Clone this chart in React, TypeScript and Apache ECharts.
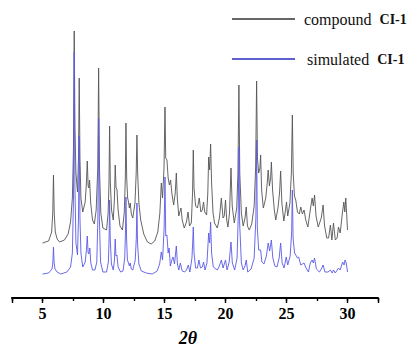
import React, { useEffect, useRef } from 'react';
import * as echarts from 'echarts';

const seriesNames = ['compound', 'simulated'];
const sampleLabel = 'CI-1';
const axisName = '2θ';

// [2θ, intensity (a.u.)] — experimental pattern, offset upward
const compound: [number, number][] = [
  [5.0, 55], [5.5, 57], [5.75, 66], [5.84, 85], [5.9, 123], [5.96, 85], [6.05, 66], [6.2, 59], [6.4, 56],
  [6.8, 58], [7.1, 64], [7.3, 76], [7.45, 100], [7.54, 150], [7.6, 267], [7.66, 170], [7.74, 125], [7.87, 106],
  [7.95, 140], [8.01, 220], [8.07, 140], [8.15, 100], [8.3, 86], [8.5, 96], [8.6, 115], [8.67, 137], [8.74, 112],
  [8.8, 110], [8.86, 118], [8.95, 95], [9.1, 78], [9.25, 74], [9.4, 88], [9.53, 130], [9.6, 230], [9.67, 130],
  [9.78, 85], [9.95, 70], [10.25, 68], [10.38, 85], [10.45, 115], [10.5, 172], [10.56, 115], [10.66, 88],
  [10.8, 78], [10.9, 100], [10.96, 133], [11.03, 110], [11.1, 109], [11.2, 88], [11.35, 72], [11.55, 68],
  [11.7, 85], [11.79, 120], [11.84, 175], [11.9, 120], [11.98, 100], [12.05, 96], [12.12, 90], [12.19, 95],
  [12.28, 84], [12.4, 80], [12.58, 95], [12.68, 125], [12.74, 163], [12.8, 125], [12.9, 95], [13.05, 78],
  [13.3, 64], [13.6, 56], [13.9, 54], [14.2, 57], [14.45, 66], [14.62, 85], [14.74, 115], [14.84, 100],
  [14.96, 130], [15.04, 191], [15.1, 140], [15.2, 138], [15.3, 120], [15.4, 113], [15.5, 118], [15.6, 105],
  [15.75, 93], [15.88, 105], [15.97, 125], [16.05, 100], [16.17, 82], [16.3, 88], [16.35, 90], [16.45, 78],
  [16.62, 70], [16.8, 76], [16.93, 86], [17.05, 72], [17.2, 75], [17.3, 105], [17.36, 148], [17.42, 110],
  [17.55, 92], [17.7, 90], [17.85, 100], [17.98, 86], [18.1, 88], [18.2, 96], [18.3, 86], [18.45, 83],
  [18.55, 105], [18.62, 141], [18.7, 128], [18.78, 154], [18.86, 115], [18.98, 85], [19.1, 75], [19.33, 70],
  [19.5, 80], [19.66, 100], [19.8, 80], [19.9, 82], [20.0, 98], [20.1, 78], [20.2, 71], [20.33, 85],
  [20.45, 130], [20.55, 92], [20.72, 75], [20.92, 90], [21.02, 125], [21.1, 213], [21.17, 125], [21.3, 85],
  [21.45, 72], [21.6, 80], [21.7, 91], [21.8, 72], [21.95, 68], [22.15, 74], [22.35, 92], [22.47, 130],
  [22.55, 217], [22.62, 140], [22.72, 125], [22.82, 130], [22.88, 143], [22.96, 108], [23.1, 90], [23.3, 100],
  [23.42, 115], [23.5, 128], [23.6, 112], [23.7, 120], [23.76, 136], [23.86, 108], [24.0, 88], [24.12, 78],
  [24.3, 90], [24.43, 105], [24.52, 127], [24.62, 95], [24.78, 77], [24.92, 88], [25.0, 96], [25.1, 82],
  [25.28, 95], [25.4, 125], [25.48, 183], [25.55, 125], [25.65, 102], [25.76, 98], [25.9, 86], [26.05, 84],
  [26.17, 91], [26.3, 84], [26.44, 88], [26.58, 78], [26.75, 71], [26.95, 88], [27.1, 100], [27.2, 92],
  [27.3, 103], [27.42, 82], [27.6, 71], [27.85, 80], [28.0, 93], [28.12, 72], [28.3, 60], [28.45, 60],
  [28.6, 73], [28.72, 58], [28.85, 75], [29.0, 58], [29.15, 60], [29.26, 71], [29.4, 65], [29.58, 85],
  [29.7, 96], [29.78, 86], [29.86, 100], [29.95, 80], [30.0, 68],
];

// [2θ, intensity (a.u.)] — simulated pattern
const simulated: [number, number][] = [
  [5.0, 24], [5.5, 25], [5.78, 29], [5.85, 36], [5.9, 51], [5.95, 36], [6.02, 29], [6.2, 26], [6.5, 24],
  [7.0, 26], [7.3, 31], [7.45, 45], [7.54, 100], [7.6, 246], [7.66, 110], [7.74, 55], [7.87, 43], [7.95, 80],
  [8.01, 162], [8.07, 80], [8.15, 45], [8.3, 31], [8.5, 36], [8.6, 48], [8.67, 62], [8.74, 45], [8.8, 44],
  [8.88, 50], [8.96, 35], [9.1, 28], [9.3, 28], [9.45, 36], [9.54, 80], [9.6, 180], [9.66, 80], [9.76, 36],
  [9.95, 26], [10.25, 26], [10.4, 36], [10.46, 60], [10.5, 98], [10.55, 60], [10.65, 34], [10.8, 28],
  [10.9, 38], [10.96, 59], [11.02, 42], [11.1, 43], [11.2, 31], [11.4, 26], [11.6, 27], [11.74, 40],
  [11.8, 65], [11.84, 101], [11.89, 60], [11.96, 38], [12.05, 35], [12.12, 32], [12.19, 35], [12.28, 29],
  [12.4, 28], [12.6, 38], [12.69, 60], [12.74, 95], [12.79, 55], [12.9, 34], [13.1, 27], [13.5, 25],
  [14.0, 24], [14.4, 27], [14.6, 34], [14.74, 46], [14.84, 38], [14.97, 70], [15.04, 121], [15.1, 62],
  [15.2, 63], [15.3, 45], [15.38, 50], [15.48, 32], [15.6, 38], [15.7, 41], [15.82, 34], [15.97, 52],
  [16.06, 34], [16.17, 28], [16.3, 35], [16.45, 27], [16.65, 26], [16.8, 28], [16.95, 33], [17.08, 26],
  [17.25, 40], [17.31, 55], [17.36, 71], [17.42, 45], [17.55, 30], [17.7, 30], [17.82, 38], [17.95, 30],
  [18.1, 31], [18.2, 36], [18.32, 28], [18.48, 35], [18.62, 65], [18.7, 55], [18.78, 76], [18.86, 45],
  [19.0, 31], [19.33, 28], [19.5, 32], [19.66, 38], [19.8, 30], [20.0, 38], [20.13, 28], [20.3, 36],
  [20.45, 56], [20.56, 35], [20.75, 28], [20.95, 40], [21.04, 80], [21.1, 151], [21.16, 75], [21.3, 35],
  [21.45, 28], [21.6, 32], [21.7, 38], [21.82, 26], [22.1, 29], [22.35, 40], [22.49, 80], [22.55, 158],
  [22.61, 70], [22.72, 48], [22.88, 48], [22.98, 36], [23.15, 34], [23.35, 42], [23.5, 55], [23.62, 47],
  [23.76, 58], [23.88, 40], [24.05, 32], [24.22, 31], [24.4, 40], [24.52, 55], [24.64, 35], [24.8, 30],
  [24.98, 41], [25.1, 33], [25.3, 42], [25.42, 65], [25.48, 108], [25.54, 60], [25.66, 45], [25.76, 43],
  [25.9, 40], [26.0, 41], [26.17, 33], [26.3, 34], [26.44, 35], [26.6, 30], [26.8, 26], [26.95, 35],
  [27.1, 38], [27.2, 35], [27.3, 40], [27.45, 29], [27.7, 26], [27.9, 30], [28.0, 33], [28.15, 26],
  [28.4, 26], [28.6, 28], [28.75, 25], [28.85, 28], [29.0, 25], [29.26, 30], [29.4, 28], [29.6, 36],
  [29.72, 33], [29.8, 38], [29.9, 35], [30.0, 26],
];

const SERIF = 'Liberation Serif';

export default function App() {
  const ref = useRef<HTMLDivElement>(null);

  useEffect(() => {
    if (!ref.current) return;
    const chart = echarts.init(ref.current, null, { renderer: 'svg' });
    const tickStyle = { color: '#000', width: 1.4 };
    chart.setOption({
      animation: false,
      backgroundColor: '#ffffff',
      grid: { left: 12, right: 36, top: 28, bottom: 49, containLabel: false, outerBoundsMode: 'none' },
      legend: {
        orient: 'vertical',
        left: 232,
        top: 10,
        padding: 0,
        icon: 'rect',
        itemWidth: 63,
        itemHeight: 1.6,
        itemGap: 22,
        data: [
          { name: seriesNames[0] },
          { name: seriesNames[1], textStyle: { padding: [0, 0, 0, 7] } },
        ],
        formatter: (n: string) => `${n}  {b|${sampleLabel}}`,
        textStyle: {
          fontFamily: SERIF,
          fontSize: 16,
          color: '#111',
          lineHeight: 18,
          padding: [0, 0, 0, 4],
          rich: {
            b: { fontFamily: SERIF, fontSize: 14, fontWeight: 'bold', color: '#111', lineHeight: 18 },
          },
        },
      },
      xAxis: [
        {
          type: 'value',
          min: 2.5,
          max: 32.5,
          interval: 2.5,
          position: 'bottom',
          axisLine: { show: true, onZero: false, lineStyle: { color: '#000', width: 2 } },
          axisTick: { show: true, length: 3, lineStyle: tickStyle },
          axisLabel: {
            formatter: (v: number) => (v % 5 === 0 ? String(v) : ''),
            margin: 7,
            color: '#000',
            fontFamily: SERIF,
            fontWeight: 'bold',
            fontSize: 16,
          },
          splitLine: { show: false },
          name: axisName,
          nameLocation: 'middle',
          nameGap: 34,
          nameTextStyle: {
            fontFamily: SERIF,
            fontWeight: 'bold',
            fontStyle: 'italic',
            fontSize: 18,
            lineHeight: 12,
            color: '#000',
            padding: [0, 14, 0, 0],
          },
        },
        {
          type: 'value',
          min: 2.5,
          max: 32.5,
          position: 'bottom',
          axisLine: { show: false, onZero: false },
          axisTick: { show: true, length: 5, lineStyle: tickStyle },
          axisLabel: { show: false },
          splitLine: { show: false },
        },
      ],
      yAxis: { type: 'value', min: 0, max: 270, show: false },
      series: [
        {
          name: seriesNames[0],
          type: 'line',
          xAxisIndex: 0,
          data: compound,
          symbol: 'none',
          showSymbol: false,
          color: '#333333',
          lineStyle: { color: '#555555', width: 0.9 },
        },
        {
          name: seriesNames[1],
          type: 'line',
          xAxisIndex: 0,
          data: simulated,
          symbol: 'none',
          showSymbol: false,
          color: '#2a2ac0',
          lineStyle: { color: '#5a5ae6', width: 0.9 },
        },
      ],
    });
    return () => chart.dispose();
  }, []);

  return (
    <div
      ref={ref}
      style={{ position: 'fixed', left: 0, top: 0, width: 414, height: 347, background: '#fff' }}
    />
  );
}
